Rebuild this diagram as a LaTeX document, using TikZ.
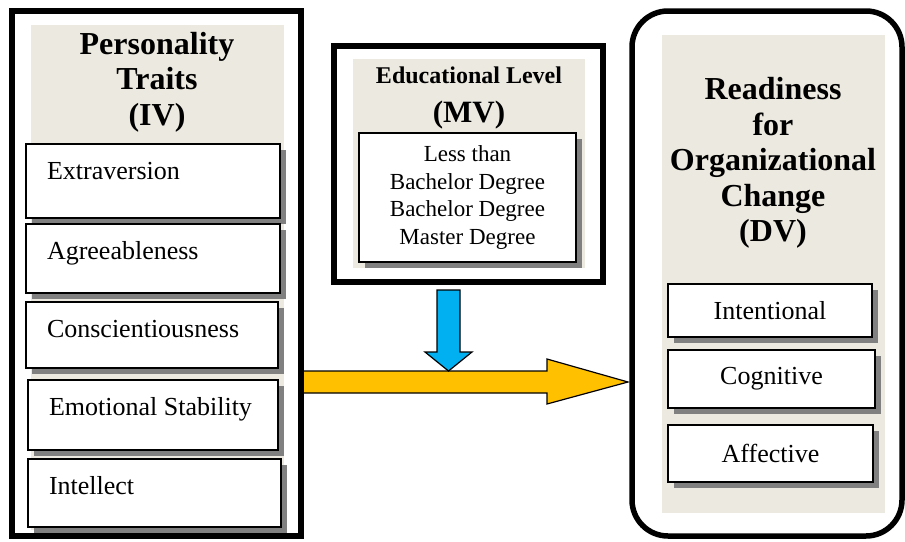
\documentclass[tikz,border=0pt]{standalone}
\usepackage{fontspec}
\setmainfont{Liberation Serif}
\usetikzlibrary{calc,shadows}
\definecolor{panel}{RGB}{236,233,224}
\definecolor{shade}{RGB}{128,128,128}
\definecolor{gold}{RGB}{255,192,0}
\definecolor{sky}{RGB}{0,176,240}
\tikzset{groupframe/.style = {draw, line width=6pt, inner sep=0pt, outer sep=0pt},
         itembox/.style = {draw, fill=white, line width=1.4pt, outer sep=0pt,
                           general shadow={fill=shade, shadow xshift=6pt, shadow yshift=-6pt}},
         traitbox/.style = {itembox, anchor=north west, align=flush left, inner xsep=21pt, inner ysep=0pt,
                            text height=35pt, font=\fontsize{26}{30}\selectfont},
         levelbox/.style = {itembox, align=center, inner sep=0pt, font=\fontsize{23}{27.5}\selectfont},
         heading/.style = {align=center, inner sep=0pt, font=\fontsize{32}{35.5}\selectfont\bfseries},
         blockarrow/.style = {draw, line width=1.2pt, line join=miter}}

\begin{document}
\begin{tikzpicture}[x=1pt,y=-1pt]
                \useasboundingbox (0,0) rectangle (905,541);
                \fill[panel] (31,25) rectangle (284,530);
                \fill[panel] (353,59) rectangle (585,268);
                \fill[panel] (662,35) rectangle (885,513);
                \node[groupframe, minimum width=289, minimum height=524.5] (iv) at (156.5,273.25) {};
                \node[groupframe, minimum width=269, minimum height=236] (mv) at (468.5,164) {};
                \node[groupframe, line width=5.5pt, rounded corners=36pt, minimum width=270, minimum height=525] (dv) at (767,273.5) {};
                \node[heading] (ivtitle) at (157,82) {Personality\\Traits\\(IV)};
                \node[traitbox, text width=212, text depth=39pt] (ext) at (26,144) {Extraversion};
                \node[traitbox, text width=212, text depth=34pt] (agr) at (26,224) {Agreeableness};
                \node[traitbox, text width=210, text depth=31pt] (con) at (26,302) {Conscientiousness};
                \node[traitbox, text width=208, text depth=35pt] (emo) at (28,380) {Emotional Stability};
                \node[traitbox, text width=211, text depth=33pt] (itl) at (28,459) {Intellect};
                \node[heading, font=\fontsize{24}{28}\selectfont\bfseries] (mvtitle) at (469,75) {Educational Level};
                \node[heading, font=\fontsize{31}{34}\selectfont\bfseries] (mvtag) at (469,115) {(MV)};
                \node[levelbox, minimum width=217, minimum height=129] (levels) at (467.5,197.5) {Less than\\Bachelor Degree\\Bachelor Degree\\Master Degree};
                \node[heading] (dvtitle) at (773,163) {Readiness\\for\\Organizational\\Change\\(DV)};
                \node[itembox, minimum width=204, minimum height=53, font=\fontsize{26}{30}\selectfont] (intent) at (770,310.5) {Intentional};
                \node[itembox, minimum width=207, minimum height=58, font=\fontsize{26}{30}\selectfont] (cog) at (771.5,379) {Cognitive};
                \node[itembox, minimum width=205, minimum height=57, font=\fontsize{26}{30}\selectfont] (aff) at (770.5,453.5) {Affective};
                \coordinate (hit) at (448.5,371);
                \coordinate (tip) at (628,382);
                \draw[blockarrow, fill=gold] ($(iv.east |- tip)+(3,-11)$) -- (547,371) -- (547,359) -- (tip)
                    -- (547,404) -- (547,393) -- ($(iv.east |- tip)+(3,11)$);
                \draw[blockarrow, fill=sky] ($(mv.south -| hit)+(-11.5,8)$) -- ++(0,62) -- ++(-12,0) -- (hit)
                    -- ++(23.5,-19) -- ++(-12,0) -- ++(0,-62) -- cycle;
            \end{tikzpicture}
\end{document}
